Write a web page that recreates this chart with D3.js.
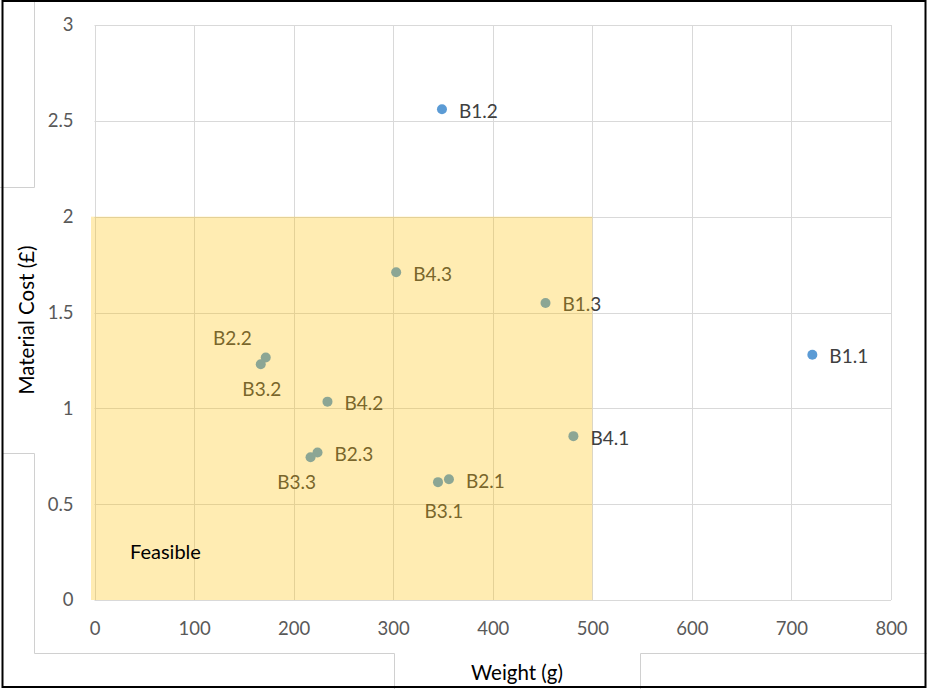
<!DOCTYPE html>
<html>
<head>
<meta charset="utf-8">
<script src="https://cdn.jsdelivr.net/npm/d3@7"></script>
<style>
  html, body { margin: 0; padding: 0; background: #fff; }
  svg { display: block; font-family: Lato, "Open Sans", sans-serif; }
</style>
</head>
<body>
<svg id="chart" width="927" height="689"></svg>
<script>
// Beam design options: weight (g) against material cost (£)
const designs = ["B1.1", "B1.2", "B1.3", "B2.1", "B2.2", "B2.3",
                 "B3.1", "B3.2", "B3.3", "B4.1", "B4.2", "B4.3"];
const weights = [721, 349, 453, 356, 172, 224, 345, 167, 217, 481, 234, 303];
const costs   = [1.28, 2.56, 1.55, 0.63, 1.265, 0.77, 0.615, 1.23, 0.745, 0.855, 1.035, 1.71];

const xTicks = [0, 100, 200, 300, 400, 500, 600, 700, 800];
const yTicks = [0, 0.5, 1, 1.5, 2, 2.5, 3];

// Feasible region: weight ≤ 500 g, cost ≤ £2
const feasibleWeight = [0, 500];
const feasibleCost = [0, 2];

const svg = d3.select("#chart");
const W = 927, H = 689;
const plot = { left: 94.5, right: 891, top: 25, bottom: 600 };

const x = d3.scaleLinear().domain([0, 800]).range([plot.left, plot.right]);
const y = d3.scaleLinear().domain([0, 3]).range([plot.bottom, plot.top]);

svg.append("rect").attr("width", W).attr("height", H).attr("fill", "#fff");

// Frame lines left around the chart area
const frame = svg.append("g").attr("stroke", "#d0d0d0").attr("stroke-width", 1).attr("fill", "none");
frame.append("path").attr("d", "M0,187.5H34.5V0");
frame.append("path").attr("d", "M3,453.5H34.5V653.5H394.5V689");
frame.append("path").attr("d", "M640.5,689V653.5H927");

// Gridlines
const grid = svg.append("g").attr("stroke", "#d9d9d9").attr("stroke-width", 1);
grid.selectAll("line.v").data(xTicks).join("line")
  .attr("x1", d => Math.round(x(d)) + 0.5).attr("x2", d => Math.round(x(d)) + 0.5)
  .attr("y1", plot.top).attr("y2", plot.bottom);
grid.selectAll("line.h").data(yTicks).join("line")
  .attr("x1", plot.left).attr("x2", plot.right)
  .attr("y1", d => Math.round(y(d)) + 0.5).attr("y2", d => Math.round(y(d)) + 0.5);

// Axes (labels only, Excel style)
const xAxis = svg.append("g")
  .attr("transform", `translate(0,${plot.bottom})`)
  .call(d3.axisBottom(x).tickValues(xTicks).tickSize(0).tickPadding(22).tickFormat(d3.format("d")));
const yAxis = svg.append("g")
  .attr("transform", `translate(${plot.left},0)`)
  .call(d3.axisLeft(y).tickValues(yTicks).tickSize(0).tickPadding(21).tickFormat(d => String(d)));
[xAxis, yAxis].forEach(a => {
  a.select(".domain").remove();
  a.selectAll("text").attr("fill", "#595959").style("font-size", "18.5px")
    .style("font-family", "Lato, 'Open Sans', sans-serif");
});

// Points
const pts = designs.map((name, i) => ({ name, w: weights[i], c: costs[i] }));
svg.append("g").selectAll("circle").data(pts).join("circle")
  .attr("cx", d => x(d.w)).attr("cy", d => y(d.c)).attr("r", 5)
  .attr("fill", "#5b9bd5");

// Data labels: default to the right of the point; a few moved to avoid overlaps
const labelOffsets = {
  "B2.2": { dx: -14, dy: -20, anchor: "end" },
  "B3.2": { dx: 1, dy: 24, anchor: "middle" },
  "B3.3": { dx: -14, dy: 24, anchor: "middle" },
  "B3.1": { dx: 6, dy: 28, anchor: "middle" }
};
svg.append("g").selectAll("text").data(pts).join("text")
  .attr("x", d => x(d.w) + (labelOffsets[d.name] ? labelOffsets[d.name].dx : 17))
  .attr("y", d => y(d.c) + (labelOffsets[d.name] ? labelOffsets[d.name].dy : 1))
  .attr("text-anchor", d => labelOffsets[d.name] ? labelOffsets[d.name].anchor : "start")
  .attr("dominant-baseline", "central")
  .attr("fill", "#404040").style("font-size", "19px")
  .text(d => d.name);

// Feasible region, translucent gold over the points
svg.append("rect")
  .attr("x", x(feasibleWeight[0]) - 3.5).attr("y", y(feasibleCost[1]))
  .attr("width", x(feasibleWeight[1]) - x(feasibleWeight[0]) + 3.5)
  .attr("height", y(feasibleCost[0]) - y(feasibleCost[1]))
  .attr("fill", "#ffc000").attr("fill-opacity", 0.3);

svg.append("text").attr("x", 130).attr("y", 559)
  .attr("fill", "#000").style("font-size", "20px").text("Feasible");

// Axis titles
svg.append("text").attr("x", 517).attr("y", 680).attr("text-anchor", "middle")
  .attr("fill", "#000").style("font-size", "20.5px").text("Weight (g)");
svg.append("text").attr("transform", "translate(34,320) rotate(-90)").attr("text-anchor", "middle")
  .attr("fill", "#000").style("font-size", "20.5px").text("Material Cost (£)");

// Outer border
svg.append("rect").attr("x", 2.5).attr("y", 1).attr("width", 923).attr("height", 686)
  .attr("fill", "none").attr("stroke", "#000").attr("stroke-width", 2);
</script>
</body>
</html>
